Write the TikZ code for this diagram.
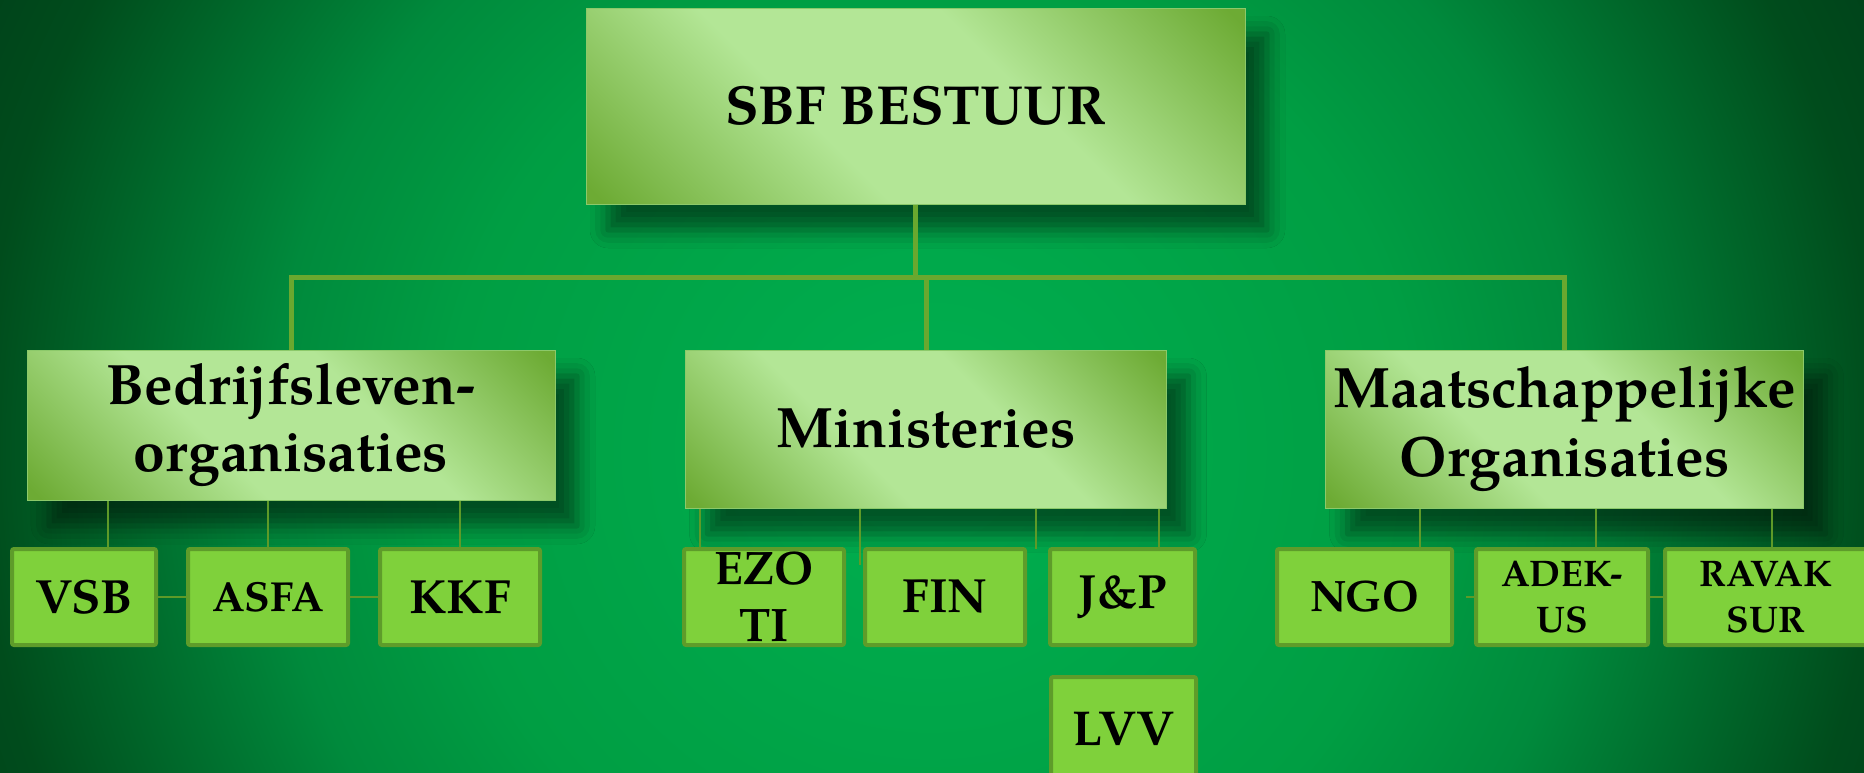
\documentclass[tikz,border=0pt]{standalone}
\usepackage{fontspec}
\setmainfont{texgyrepagella}[Extension=.otf, UprightFont=*-regular, BoldFont=*-bold, ItalicFont=*-italic, BoldItalicFont=*-bolditalic]
\usetikzlibrary{shadows.blur}
\definecolor{bgA}{HTML}{00B050}
\definecolor{bgB}{HTML}{009E43}
\definecolor{bgC}{HTML}{008A3C}
\definecolor{bgD}{HTML}{004C1C}
\definecolor{bgE}{HTML}{00421A}
\definecolor{bxL}{HTML}{B3E696}
\definecolor{bxD}{HTML}{6DAB34}
\definecolor{bxEdge}{HTML}{8CC96A}
\definecolor{leafFill}{HTML}{7FD13B}
\definecolor{leafEdge}{HTML}{5E9C2A}
\definecolor{trunkCol}{HTML}{6AA82F}
\definecolor{twigCol}{HTML}{5E9A28}
\pgfdeclareradialshading{bgshade}{\pgfpointorigin}{color(0bp)=(bgA); color(11bp)=(bgB); color(15bp)=(bgC); color(21.6bp)=(bgD); color(24bp)=(bgE); color(50bp)=(bgE)}
\pgfdeclarehorizontalshading{boxshade}{100bp}{color(0bp)=(bxD); color(16bp)=(bxD); color(40bp)=(bxL); color(60bp)=(bxL); color(84bp)=(bxD); color(100bp)=(bxD)}
\tikzset{
  headbox/.style={shade, shading=boxshade, shading angle=45, draw=bxEdge, line width=1pt,
    blur shadow={shadow xshift=22pt, shadow yshift=-26pt, shadow blur radius=18pt, shadow opacity=50},
    inner sep=0pt, align=center, font=\bfseries},
  leaf/.style={fill=leafFill, draw=leafEdge, line width=4pt, rounded corners=2pt,
    inner sep=0pt, align=center, font=\bfseries},
  trunk/.style={draw=trunkCol, line width=5pt},
  twig/.style={draw=twigCol, line width=2pt},
}
\begin{document}
\begin{tikzpicture}[x=1pt, y=-1pt]
\useasboundingbox (0,0) rectangle (1864,772);
\begin{scope}
  \clip (0,0) rectangle (1864,772);
  \shade[shading=bgshade] (930,450) circle (1100pt);
\end{scope}

% top level
\node[headbox, minimum width=659pt, minimum height=196pt, font=\bfseries\fontsize{55}{60}\selectfont] (top) at (915.5,106) {SBF BESTUUR};

% second level
\node[headbox, minimum width=528pt, minimum height=150pt, font=\bfseries\fontsize{57}{67}\selectfont] (bed) at (291,425) {Bedrijfsleven-\\organisaties};
\node[headbox, minimum width=481pt, minimum height=158pt, font=\bfseries\fontsize{57}{67}\selectfont] (min) at (926,429) {Ministeries};
\node[headbox, minimum width=478pt, minimum height=158pt, font=\bfseries\fontsize{57}{69}\selectfont] (maat) at (1564.5,429) {Maatschappelijke\\Organisaties};

% third level
\node[leaf, minimum width=144pt, minimum height=96pt, font=\bfseries\fontsize{48}{52}\selectfont] (vsb) at (84,597) {VSB};
\node[leaf, minimum width=160pt, minimum height=96pt, font=\bfseries\fontsize{42}{46}\selectfont] (asfa) at (268,597) {ASFA};
\node[leaf, minimum width=160pt, minimum height=96pt, font=\bfseries\fontsize{48}{52}\selectfont] (kkf) at (460,597) {KKF};

\node[leaf, minimum width=160pt, minimum height=96pt, font=\bfseries\fontsize{47}{57}\selectfont] (ezo) at (764,597) {EZO\\TI};
\node[leaf, minimum width=160pt, minimum height=96pt, font=\bfseries\fontsize{48}{52}\selectfont] (fin) at (945,597) {FIN};
\node[leaf, minimum width=145pt, minimum height=96pt, font=\bfseries\fontsize{48}{52}\selectfont] (jp) at (1122.5,597) {J\&P};
\node[leaf, minimum width=145pt, minimum height=104pt, font=\bfseries\fontsize{49}{52}\selectfont] (lvv) at (1123.5,729) {LVV};

\node[leaf, minimum width=175pt, minimum height=96pt, font=\bfseries\fontsize{44}{50}\selectfont] (ngo) at (1364.5,597) {NGO};
\node[leaf, minimum width=172pt, minimum height=96pt, font=\bfseries\fontsize{37}{46}\selectfont] (adek) at (1562,597) {ADEK-\\US};
\node[leaf, minimum width=202pt, minimum height=96pt, font=\bfseries\fontsize{37}{46}\selectfont] (ravak) at (1766,597) {RAVAK\\SUR};

% trunk connectors
\coordinate (hub) at (916,277);
\draw[trunk] (top.south) -- (top.south |- hub);
\draw[trunk] (bed.north) |- (hub) -| (maat.north);
\draw[trunk] (min.north) -- (min.north |- hub);

% twig connectors: Bedrijfsleven
\draw[twig] ([xshift=24pt]vsb.north) -- ([xshift=24pt]vsb.north |- bed.south);
\draw[twig] (asfa.north) -- (asfa.north |- bed.south);
\draw[twig] (kkf.north) -- (kkf.north |- bed.south);
\draw[twig] (vsb.east) -- (asfa.west);
\draw[twig] (asfa.east) -- (kkf.west);

% twig connectors: Ministeries
\coordinate (m2) at (860,565);
\coordinate (m3) at (1036,549);
\draw[twig] ([xshift=-64pt]ezo.north) -- ([xshift=-64pt]ezo.north |- min.south);
\draw[twig] (m2) -- (m2 |- min.south);
\draw[twig] (m3) -- (m3 |- min.south);
\draw[twig] ([xshift=36.5pt]jp.north) -- ([xshift=36.5pt]jp.north |- min.south);

% twig connectors: Maatschappelijke
\coordinate (n1) at (1466,597);
\draw[twig] ([xshift=55.5pt]ngo.north) -- ([xshift=55.5pt]ngo.north |- maat.south);
\draw[twig] ([xshift=34pt]adek.north) -- ([xshift=34pt]adek.north |- maat.south);
\draw[twig] ([xshift=6pt]ravak.north) -- ([xshift=6pt]ravak.north |- maat.south);
\draw[twig] (n1) -- (adek.west);
\draw[twig] (adek.east) -- (ravak.west);
\end{tikzpicture}
\end{document}
